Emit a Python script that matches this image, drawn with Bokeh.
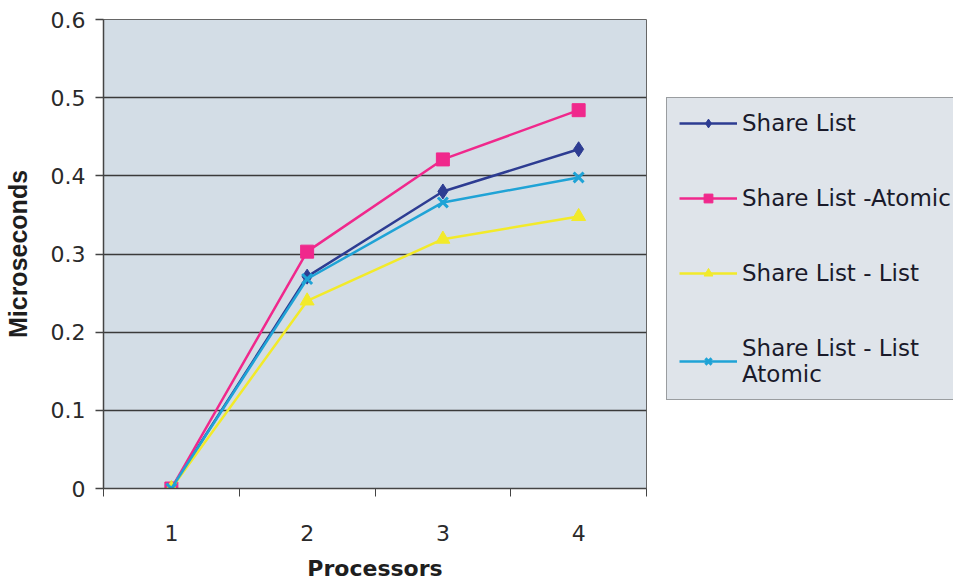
from bokeh.plotting import figure
from bokeh.models import FixedTicker, Legend, LegendItem, Range1d
from bokeh.embed import file_html
from bokeh.resources import INLINE

processors = [1, 2, 3, 4]
share_list = [0.0, 0.271, 0.380, 0.434]
share_list_atomic = [0.0, 0.303, 0.421, 0.484]
share_list_list = [0.0, 0.240, 0.319, 0.348]
share_list_list_atomic = [0.0, 0.268, 0.366, 0.398]
y_ticks = [0, 0.1, 0.2, 0.3, 0.4, 0.5, 0.6]
names = ["Share List", "Share List -Atomic", "Share List - List", "Share List - List\nAtomic"]

FONT = "DejaVu Sans"

p = figure(width=953, height=583, output_backend="svg", toolbar_location=None,
           x_range=Range1d(0.5, 4.5), y_range=Range1d(0, 0.6),
           min_border_left=102, min_border_right=308, min_border_top=19, min_border_bottom=95)
p.frame_width = 543
p.frame_height = 469
p.border_fill_color = "white"
p.outline_line_color = "#666666"
p.outline_line_width = 1
p.background_fill_color = "#d3dde6"

# axes
p.xaxis.ticker = FixedTicker(ticks=processors, minor_ticks=[0.5, 1.5, 2.5, 3.5, 4.5])
p.xaxis.major_tick_out = 0
p.xaxis.major_tick_in = 0
p.xaxis.minor_tick_out = 8
p.xaxis.minor_tick_in = 0
p.xaxis.minor_tick_line_color = "#444444"
p.xaxis.major_label_standoff = 28
p.xaxis.axis_label = "Processors"
p.xaxis.axis_label_standoff = 12

p.yaxis.ticker = FixedTicker(ticks=y_ticks)
p.yaxis.major_tick_out = 8
p.yaxis.major_tick_in = 0
p.yaxis.minor_tick_line_color = None
p.yaxis.major_label_standoff = 10
p.yaxis.axis_label = "Microseconds"
p.yaxis.axis_label_standoff = 16

for ax in (p.xaxis, p.yaxis):
    ax.axis_line_color = "#444444"
    ax.axis_line_width = 1.5
    ax.major_tick_line_color = "#444444"
    ax.major_tick_line_width = 1.5
    ax.major_label_text_font = FONT
    ax.major_label_text_font_size = "22px"
    ax.major_label_text_color = "#2a2a2a"
    ax.axis_label_text_font = FONT
    ax.axis_label_text_font_size = "22px"
    ax.axis_label_text_font_style = "bold"
    ax.axis_label_text_color = "#1e1e1e"
p.yaxis.axis_label_text_font = "Liberation Sans"
p.yaxis.axis_label_text_font_size = "25px"

p.xgrid.grid_line_color = None
p.ygrid.ticker = FixedTicker(ticks=y_ticks)
p.ygrid.grid_line_color = "#3a3a3a"
p.ygrid.grid_line_width = 1.5

series = [
    (share_list, "#2d3c92", "diamond", 15),
    (share_list_atomic, "#f0288c", "square", 13),
    (share_list_list, "#f2ea2a", "triangle", 14),
    (share_list_list_atomic, "#1fa3d6", "x", 14),
]
items = []
for (vals, color, marker, size), name in zip(series, names):
    r1 = p.line(processors, vals, line_color=color, line_width=2.5)
    r2 = p.scatter(processors, vals, marker=marker, size=size, fill_color=color,
                   line_color=color, line_width=3 if marker == "x" else 1)
    items.append(LegendItem(label=name, renderers=[r1, r2]))

legend = Legend(items=items, location=(20, 88), orientation="vertical")
legend.background_fill_color = "#dfe4ea"
legend.background_fill_alpha = 1
legend.border_line_color = "#555555"
legend.border_line_width = 1.5
legend.label_text_font = FONT
legend.label_text_font_size = "23px"
legend.label_text_color = "#1a1a2a"
legend.glyph_width = 58
legend.glyph_height = 22
legend.label_standoff = 5
legend.spacing = 49
legend.padding = 12
legend.margin = 0
p.add_layout(legend, "right")

open("out.html", "w").write(file_html(p, INLINE))
